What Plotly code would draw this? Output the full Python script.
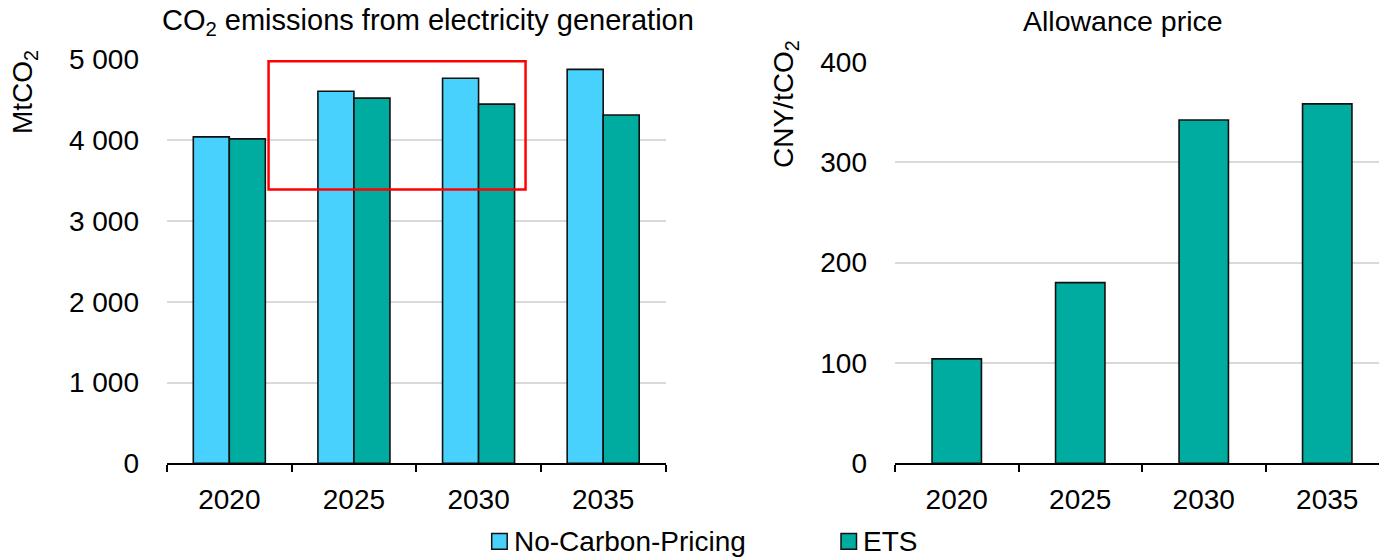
import plotly.graph_objects as go

# Scenario years shown on both panels
years = ["2020", "2025", "2030", "2035"]

# Power-sector CO2 emissions (MtCO2)
emissions_no_pricing = [4040, 4605, 4765, 4875]
emissions_ets = [4015, 4520, 4445, 4310]

# ETS allowance price (CNY/tCO2)
allowance_price = [104, 180, 342, 358]

emis_ticks = [0, 1000, 2000, 3000, 4000, 5000]
emis_tick_labels = ["0", "1 000", "2 000", "3 000", "4 000", "5 000"]
price_ticks = [0, 100, 200, 300, 400]

series_names = ["No-Carbon-Pricing", "ETS"]
colors = {"No-Carbon-Pricing": "#49D1FD", "ETS": "#00AC9F"}

FONT = "Arial, 'Liberation Sans', sans-serif"
W, H = 1379, 559


def px_x(p):
    return p / W


def px_y(p):
    return 1 - p / H


fig = go.Figure()

bar_line = dict(color="#111111", width=1.6)

fig.add_trace(go.Bar(
    x=years, y=emissions_no_pricing, name=series_names[0],
    marker=dict(color=colors["No-Carbon-Pricing"], line=bar_line),
    width=0.289, offset=-0.289, xaxis="x", yaxis="y", showlegend=False,
))
fig.add_trace(go.Bar(
    x=years, y=emissions_ets, name=series_names[1],
    marker=dict(color=colors["ETS"], line=bar_line),
    width=0.289, offset=0.0, xaxis="x", yaxis="y", showlegend=False,
))
fig.add_trace(go.Bar(
    x=years, y=allowance_price, name=series_names[1],
    marker=dict(color=colors["ETS"], line=bar_line),
    width=0.4, offset=-0.2, xaxis="x2", yaxis="y2", showlegend=False,
))

tick_font = dict(family=FONT, size=28, color="#000000")
grid_color = "#D9D9D9"

x_common = dict(
    type="category", showline=True, linecolor="#000000", linewidth=2,
    ticks="outside", tickson="boundaries", ticklen=7, tickwidth=2,
    tickcolor="#000000", showgrid=False, tickfont=tick_font,
    ticklabelstandoff=10, fixedrange=True, automargin=False,
)
y_common = dict(
    showline=False, ticks="", showgrid=True, gridcolor=grid_color,
    gridwidth=2, zeroline=False, tickfont=tick_font,
    ticklabelstandoff=27, fixedrange=True, automargin=False,
)

bottom = px_y(463.3)

fig.update_layout(
    width=W, height=H,
    margin=dict(l=0, r=0, t=0, b=0, pad=0, autoexpand=False),
    paper_bgcolor="#FFFFFF", plot_bgcolor="#FFFFFF",
    font=dict(family=FONT, size=28, color="#000000"),
    barmode="overlay",
    xaxis=dict(x_common, domain=[px_x(167), px_x(665.5)], range=[-0.5, 3.5],
               anchor="y"),
    yaxis=dict(y_common, domain=[bottom, px_y(59.3)], range=[0, 5000],
               tickvals=emis_ticks, ticktext=emis_tick_labels, anchor="x"),
    xaxis2=dict(x_common, domain=[px_x(895), 1.0],
                range=[-0.5, -0.5 + (W - 895) / 123.5], anchor="y2"),
    yaxis2=dict(y_common, domain=[bottom, px_y(61.7)], range=[0, 400],
                tickvals=price_ticks, anchor="x2"),
    showlegend=False,
)

# Highlight box around the 2025-2030 emissions bars
fig.add_shape(
    type="rect", xref="x", yref="y",
    x0=0.315, x1=2.377, y0=3390, y1=4977,
    line=dict(color="#FF0000", width=2.5), fillcolor="rgba(0,0,0,0)",
    layer="above",
)

annotations = [
    dict(text="CO<sub>2</sub> emissions from electricity generation",
         x=px_x(428.4), y=px_y(22.5), font=dict(size=29)),
    dict(text="Allowance price", x=px_x(1122.7), y=px_y(21.5),
         font=dict(size=28.5)),
    dict(text="MtCO<sub>2</sub>", x=px_x(25), y=px_y(92), textangle=-90,
         font=dict(size=28)),
    dict(text="CNY/tCO<sub>2</sub>", x=px_x(785), y=px_y(104), textangle=-90,
         font=dict(size=28)),
]
for a in annotations:
    a.update(xref="paper", yref="paper", showarrow=False,
             xanchor="center", yanchor="middle")
    a["font"].update(family=FONT, color="#000000")
    fig.add_annotation(**a)

# Legend drawn beneath both panels
legend_items = [
    (series_names[0], 491.7, 511.7),
    (series_names[1], 841.0, 861.0),
]
for name, sq_left, text_left in legend_items:
    fig.add_shape(
        type="rect", xref="paper", yref="paper",
        x0=px_x(sq_left), x1=px_x(sq_left + 15.5),
        y0=px_y(549.3), y1=px_y(533.5),
        fillcolor=colors[name], line=dict(color="#111111", width=1.5),
    )
    fig.add_annotation(
        text=name, xref="paper", yref="paper", x=px_x(text_left),
        y=0, xanchor="left", yanchor="bottom", showarrow=False,
        font=dict(family=FONT, size=28, color="#000000"),
    )

fig.write_html("out.html")
